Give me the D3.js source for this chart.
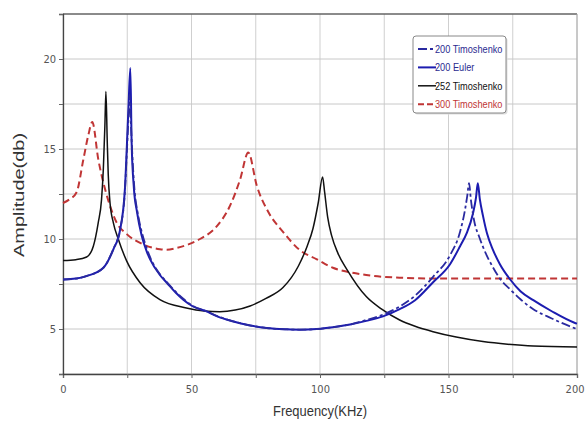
<!DOCTYPE html>
<html>
<head>
<meta charset="utf-8">
<script src="https://cdn.jsdelivr.net/npm/d3@7"></script>
<style>
  body { margin: 0; background: #fff; }
  text { font-family: "Liberation Sans", Arial, sans-serif; }
</style>
</head>
<body>
<div id="chart"></div>
<script>
var width = 585;
var height = 424;
var margin = {top: 14, left: 63, right: 8, bottom: 50};

// [frequency KHz, amplitude db]
var timo200 = [
  [0, 7.75], [5, 7.8], [9.2, 7.95], [15.7, 8.4], [19.6, 9.45], [22.2, 10.5], [24.1, 12.7],
  [24.9, 15.0], [25.5, 16.8], [25.9, 18.0], [26.4, 16.5], [27.0, 14.6], [27.9, 12.6],
  [29.0, 11.5], [30.8, 10.3], [32.8, 9.4], [34.0, 8.95], [37.7, 8.05], [40.4, 7.6],
  [44, 7.05], [46.8, 6.68], [50.6, 6.28], [55.9, 5.98], [60, 5.72], [66.3, 5.42],
  [72, 5.22], [79.3, 5.05], [87, 4.98], [92.2, 4.96], [98.8, 5.0], [105, 5.1],
  [111.7, 5.25], [118, 5.5], [124.5, 5.8], [131, 6.25], [137, 6.85], [144, 7.9],
  [150.6, 9.1], [154.5, 10.4], [156.4, 11.6], [157.3, 12.4], [158, 13.1], [158.7, 12.2],
  [160, 11.0], [162, 10.1], [164.5, 9.2], [167, 8.5], [170, 7.8], [174, 7.2],
  [178, 6.65], [183, 6.1], [190, 5.6], [199, 5.05], [200, 5.0]
];

var euler200 = [
  [0, 7.75], [5, 7.8], [9.2, 7.94], [15.7, 8.4], [19.6, 9.43], [22.2, 10.5], [24.1, 12.8],
  [24.8, 15.0], [25.5, 17.4], [26.2, 19.5], [26.7, 15.4], [27.6, 12.8], [28.8, 11.5],
  [30.6, 10.2], [32.6, 9.3], [33.9, 8.87], [37.7, 8.0], [40.4, 7.57], [44, 7.0],
  [46.8, 6.63], [50.6, 6.25], [55.9, 5.98], [60, 5.7], [66.3, 5.42], [72, 5.22],
  [79.3, 5.05], [87, 4.98], [92.2, 4.96], [98.8, 5.0], [105, 5.1], [111.7, 5.25],
  [118, 5.45], [124.5, 5.7], [131, 6.1], [137, 6.6], [144, 7.6], [150.6, 8.6],
  [154.5, 9.6], [157, 10.3], [159.5, 11.4], [160.7, 12.3], [161.4, 13.1], [162.2, 12.2],
  [163.4, 11.3], [165, 10.3], [167.3, 9.4], [170, 8.6], [174, 7.75], [178, 7.1],
  [183, 6.6], [190, 6.0], [199, 5.35], [200, 5.3]
];

var timo252 = [
  [0, 8.8], [5, 8.85], [9.2, 9.0], [11.8, 9.6], [13.7, 10.9], [15, 12.2], [15.7, 13.9],
  [16.3, 16.3], [16.7, 18.2], [17.2, 15.5], [17.6, 13.6], [18.3, 12.0], [19.6, 10.9],
  [21.5, 10.0], [24.8, 8.77], [30, 7.57], [37.7, 6.63], [48, 6.17], [55, 6.0],
  [61, 5.96], [67, 6.05], [72.8, 6.28], [79, 6.7], [85.6, 7.3], [91.6, 8.5],
  [95, 9.6], [97.3, 10.6], [99.3, 12.0], [101, 13.45], [101.8, 12.6], [103, 11.2],
  [104.5, 10.2], [107, 9.2], [110.5, 8.3], [118, 6.8], [124, 6.1], [131, 5.5],
  [137, 5.15], [144, 4.85], [153, 4.55], [163.4, 4.3], [173, 4.15], [183, 4.05], [200, 4.0]
];

var timo300 = [
  [0, 12.0], [2.5, 12.2], [5.3, 12.6], [7.9, 14.4], [9.9, 15.8], [11.4, 16.5],
  [13.7, 14.45], [16.3, 12.8], [17.5, 12.2], [20.9, 10.9], [24.8, 10.27], [31.2, 9.7],
  [37.7, 9.43], [40.4, 9.4], [44.2, 9.5], [48.8, 9.7], [53.3, 10.0], [59.8, 10.7],
  [65, 11.85], [68.9, 13.3], [72.1, 14.8], [75.4, 12.96], [79.9, 11.5], [85.6, 10.4],
  [92, 9.4], [98.8, 8.87], [105, 8.4], [111.7, 8.15], [118, 8.0], [131, 7.85],
  [150, 7.8], [200, 7.8]
];

var xTicks = [0, 50, 100, 150, 200];
var yTicks = [5, 10, 15, 20];
var seriesNames = ["200 Timoshenko", "200 Euler", "252 Timoshenko", "300 Timoshenko"];

var svg = d3.select("#chart")
  .append("svg")
  .attr("width", width)
  .attr("height", height);

var xScale = d3.scaleLinear()
  .domain([0, 200])
  .range([margin.left, width - margin.right]);

var yScale = d3.scaleLinear()
  .domain([2.5, 22.5])
  .range([height - margin.bottom, margin.top]);

// grid
svg.append("g")
  .selectAll("line")
  .data(d3.range(0, 201, 25))
  .enter()
  .append("line")
    .attr("x1", function(d) { return xScale(d); })
    .attr("x2", function(d) { return xScale(d); })
    .attr("y1", margin.top)
    .attr("y2", height - margin.bottom)
    .attr("stroke", "#cfcfcf");

svg.append("g")
  .selectAll("line")
  .data(d3.range(2.5, 22.6, 2.5))
  .enter()
  .append("line")
    .attr("x1", margin.left)
    .attr("x2", width - margin.right)
    .attr("y1", function(d) { return yScale(d); })
    .attr("y2", function(d) { return yScale(d); })
    .attr("stroke", "#c8c8c8");

// frame
svg.append("line")
  .attr("x1", margin.left).attr("x2", width - margin.right)
  .attr("y1", margin.top).attr("y2", margin.top)
  .attr("stroke", "#333").attr("stroke-width", 1.2);
svg.append("line")
  .attr("x1", width - margin.right).attr("x2", width - margin.right)
  .attr("y1", margin.top).attr("y2", height - margin.bottom)
  .attr("stroke", "#aaa");

// axes
var xAxis = svg.append("g")
  .attr("transform", `translate(0,${height - margin.bottom})`)
  .call(d3.axisBottom(xScale).tickValues(d3.range(0, 201, 25)).tickSize(4)
    .tickFormat(function(d) { return xTicks.indexOf(d) >= 0 ? d : ""; }));

var yAxis = svg.append("g")
  .attr("transform", `translate(${margin.left},0)`)
  .call(d3.axisLeft(yScale).tickValues(d3.range(2.5, 22.6, 2.5)).tickSize(4)
    .tickFormat(function(d) { return yTicks.indexOf(d) >= 0 ? d : ""; }));

[xAxis, yAxis].forEach(function(ax) {
  ax.select(".domain").attr("stroke", "#444").attr("stroke-width", 1.3);
  ax.selectAll(".tick line").attr("stroke", "#666");
  ax.selectAll(".tick text")
    .attr("fill", "#555")
    .style("font-size", "11px")
    .style("font-family", "'Liberation Sans Narrow', 'DejaVu Sans Condensed', 'Liberation Sans', sans-serif");
});
xAxis.selectAll(".tick text").attr("dy", "1.1em");
// last label sits against the right edge, as in the source
xAxis.selectAll(".tick text")
  .filter(function(d) { return d === 200; })
  .attr("text-anchor", "end")
  .attr("x", 7);

svg.append("text")
  .attr("x", (margin.left + width - margin.right) / 2)
  .attr("y", 416)
  .attr("text-anchor", "middle")
  .attr("fill", "#333")
  .attr("textLength", 94)
  .attr("lengthAdjust", "spacingAndGlyphs")
  .style("font-size", "14px")
  .text("Frequency(KHz)");

svg.append("text")
  .attr("transform", "translate(24,195) rotate(-90)")
  .attr("text-anchor", "middle")
  .attr("fill", "#333")
  .attr("textLength", 124)
  .attr("lengthAdjust", "spacingAndGlyphs")
  .style("font-size", "14px")
  .text("Amplitude(db)");

// lines
var line = d3.line()
  .x(function(d) { return xScale(d[0]); })
  .y(function(d) { return yScale(d[1]); })
  .curve(d3.curveMonotoneX);

var styles = [
  {data: timo300, color: "#c03535", width: 2, dash: "7,4", text: "#c03535"},
  {data: timo252, color: "#111", width: 1.5, dash: null, text: "#111"},
  {data: euler200, color: "#1c1cb0", width: 2, dash: null, text: "#2a2a90"},
  {data: timo200, color: "#2a2aa0", width: 1.8, dash: "9,3,3,3", text: "#2a2a90"}
];

styles.forEach(function(s) {
  svg.append("path")
    .datum(s.data)
    .attr("d", line)
    .attr("fill", "none")
    .attr("stroke", s.color)
    .attr("stroke-width", s.width)
    .attr("stroke-dasharray", s.dash);
});

// legend
var legend = svg.append("g").attr("transform", "translate(413,36)");
legend.append("rect")
  .attr("x", 1.5).attr("y", 1.5)
  .attr("width", 93).attr("height", 77)
  .attr("rx", 3)
  .attr("fill", "#ddd");
legend.append("rect")
  .attr("width", 93).attr("height", 77)
  .attr("rx", 3)
  .attr("fill", "#fff")
  .attr("stroke", "#888");

var legendItems = [styles[3], styles[2], styles[1], styles[0]];
legendItems.forEach(function(s, i) {
  var y = 13 + i * 18.4;
  legend.append("line")
    .attr("x1", 5).attr("x2", 23)
    .attr("y1", y).attr("y2", y)
    .attr("stroke", s.color)
    .attr("stroke-width", s.width)
    .attr("stroke-dasharray", s.dash ? (i === 0 ? "9,3,3,3" : "6,3") : null);
  legend.append("text")
    .attr("transform", `translate(22,${y + 4}) scale(0.8,1)`)
    .attr("fill", s.text)
    .style("font-size", "11.5px")
    .text(seriesNames[i]);
});
</script>
</body>
</html>
